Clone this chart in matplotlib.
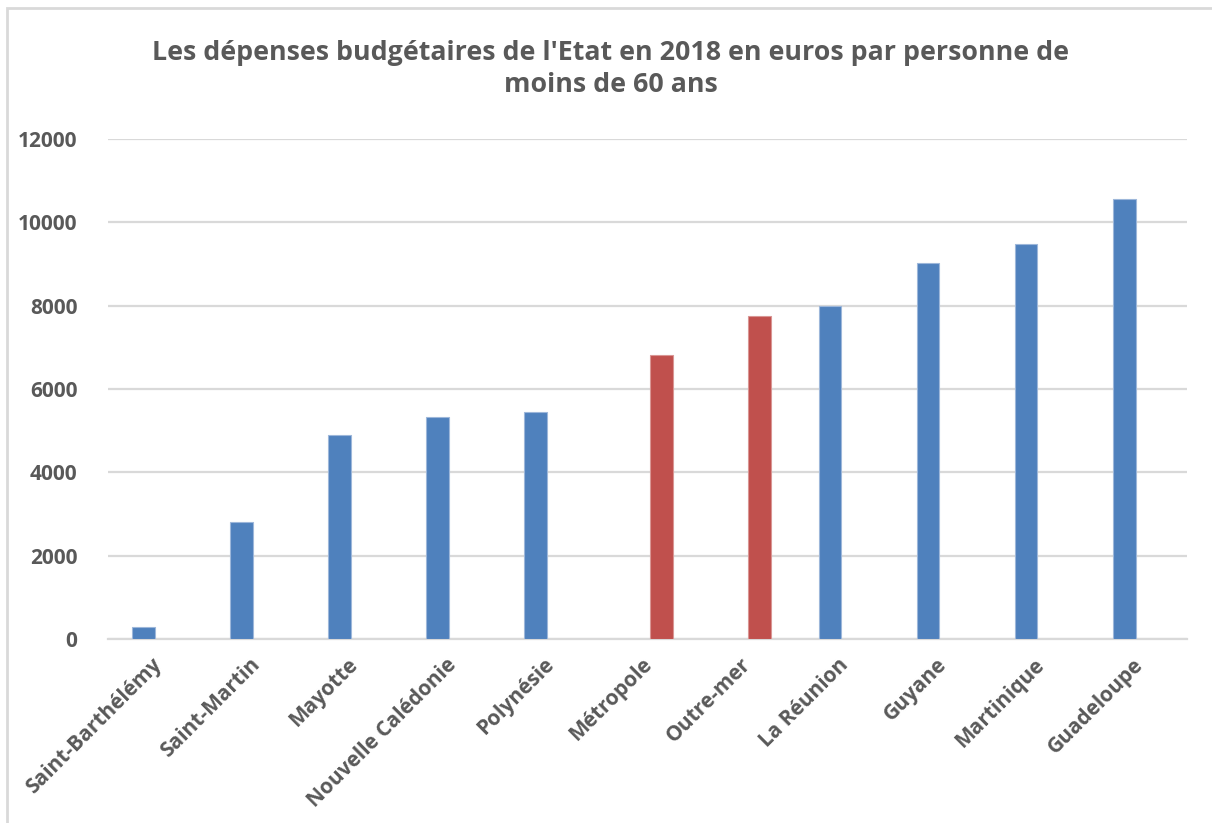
import numpy as np
import matplotlib.pyplot as plt
import matplotlib.transforms as mtransforms
from matplotlib.patches import Rectangle

# Data
categories = ['Saint-Barthélémy', 'Saint-Martin', 'Mayotte', 'Nouvelle Calédonie',
              'Polynésie', 'Métropole', 'Outre-mer', 'La Réunion', 'Guyane',
              'Martinique', 'Guadeloupe']
values = [280, 2800, 4890, 5330, 5460, 6820, 7760, 8000, 9030, 9470, 10550]
# which series each bar belongs to (territories vs. aggregates)
highlight = [False, False, False, False, False, True, True, False, False, False, False]
y_ticks = [0, 2000, 4000, 6000, 8000, 10000, 12000]
title = "Les dépenses budgétaires de l'Etat en 2018 en euros par personne de\nmoins de 60 ans"

blue = '#4F81BD'
red = '#C0504D'
grey_text = '#595959'
grid_col = '#D9D9D9'

plt.rcParams['font.family'] = ['Open Sans', 'DejaVu Sans']

fig = plt.figure(figsize=(12.12, 8.23), dpi=100)
ax = fig.add_axes([108 / 1212, 1 - 639 / 823, (1187 - 108) / 1212, (639 - 139) / 823])

ind = np.arange(len(categories))
width = 0.23
blue_x = [i - 0.14 for i, h in zip(ind, highlight) if not h]
blue_v = [v for v, h in zip(values, highlight) if not h]
red_x = [i + 0.14 for i, h in zip(ind, highlight) if h]
red_v = [v for v, h in zip(values, highlight) if h]

ax.bar(blue_x, blue_v, width, color=blue, edgecolor='#9DB7DA', linewidth=0.8, zorder=3)
ax.bar(red_x, red_v, width, color=red, edgecolor='#D99694', linewidth=0.8, zorder=3)

ax.set_xlim(-0.5, len(categories) - 0.5)
ax.set_ylim(0, 12000)
ax.set_yticks(y_ticks)
ax.set_yticklabels([str(t) for t in y_ticks], fontsize=15, fontweight='bold', color=grey_text)
ax.set_xticks(ind)
ax.set_xticklabels(categories, rotation=45, ha='right', va='top',
                   fontsize=15, fontweight='bold', color=grey_text)
ax.tick_params(axis='both', length=0)
ax.tick_params(axis='y', pad=22)
ax.tick_params(axis='x', pad=11)

# nudge the rotated labels a little to the right, like in the reference
shift = mtransforms.ScaledTranslation(9 / 100, 0, fig.dpi_scale_trans)
for lab in ax.get_xticklabels():
    lab.set_transform(lab.get_transform() + shift)

ax.grid(axis='y', color=grid_col, linewidth=1.6, zorder=0)
for side in ['top', 'right', 'left']:
    ax.spines[side].set_visible(False)
ax.spines['bottom'].set_color(grid_col)
ax.spines['bottom'].set_linewidth(1.6)

fig.text(611 / 1212, 1 - 69 / 823, title, ha='center', va='center',
         fontsize=19.3, fontweight='bold', color=grey_text, linespacing=1.35)

# light frame around the chart area (only top and left visible in the reference)
fig.patches.append(Rectangle((7 / 1212, -0.05), 1.2, 1 - 8 / 823 + 0.05,
                             transform=fig.transFigure, fill=False,
                             edgecolor=grid_col, linewidth=2.0))

fig.savefig('out.png', dpi=100)
